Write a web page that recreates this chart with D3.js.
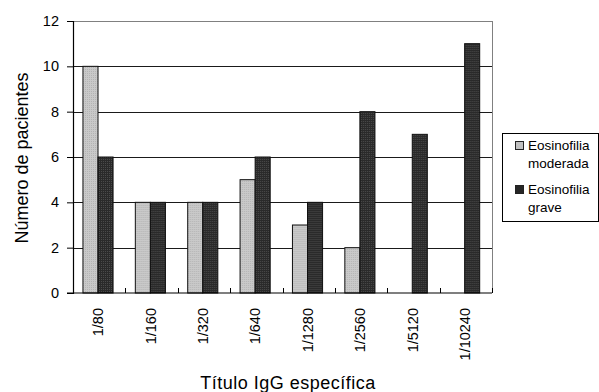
<!DOCTYPE html>
<html>
<head>
<meta charset="utf-8">
<script src="https://cdn.jsdelivr.net/npm/d3@7"></script>
<style>
  body { margin: 0; background: #fff; }
  text { font-family: "Liberation Sans", Arial, sans-serif; fill: #000; }
</style>
</head>
<body>
<div id="plot"></div>
<script>
let categories = ['1/80', '1/160', '1/320', '1/640', '1/1280', '1/2560', '1/5120', '1/10240'];
let seriesNames = ['Eosinofilia moderada', 'Eosinofilia grave'];
let moderada = [10, 4, 4, 5, 3, 2, 0, 0];
let grave = [6, 4, 4, 6, 4, 8, 7, 11];
let yTicks = [0, 2, 4, 6, 8, 10, 12];

let svgWidth = 599;
let svgHeight = 392;
let margin = { top: 21, right: 107, bottom: 99, left: 73 };
let width = svgWidth - margin.left - margin.right;
let height = svgHeight - margin.top - margin.bottom;

let data = categories.map((c, i) => ({ cat: c, values: [moderada[i], grave[i]] }));

let svg = d3.select('#plot')
  .append('svg')
  .attr('width', svgWidth)
  .attr('height', svgHeight);

// textured fills, like the old spreadsheet chart
let defs = svg.append('defs');
function dots(id, bg, fg) {
  let p = defs.append('pattern')
    .attr('id', id)
    .attr('width', 2).attr('height', 2)
    .attr('patternUnits', 'userSpaceOnUse');
  p.append('rect').attr('width', 2).attr('height', 2).attr('fill', bg);
  p.append('rect').attr('width', 1).attr('height', 1).attr('fill', fg);
}
dots('pLight', '#c9c9c9', '#b4b4b4');
dots('pDark', '#2a2a2a', '#4a4a4a');
let fills = ['url(#pLight)', 'url(#pDark)'];
let swatch = ['#c0c0c0', '#262626'];

let chart = svg.append('g')
  .attr('transform', `translate(${margin.left},${margin.top})`);

let x0 = d3.scaleBand().domain(categories).range([0, width]);
let bw = x0.bandwidth();
let x1 = d3.scaleBand().domain([0, 1]).range([bw * 0.19, bw * 0.765]);
let y = d3.scaleLinear().domain([0, 12]).range([height, 0]);

// gridlines
chart.append('g')
  .selectAll('line')
  .data(yTicks.filter(d => d > 0))
  .enter().append('line')
  .attr('x1', 0).attr('x2', width)
  .attr('y1', d => Math.round(y(d)) + 0.5)
  .attr('y2', d => Math.round(y(d)) + 0.5)
  .attr('stroke', d => d === 12 ? '#808080' : '#1a1a1a')
  .attr('stroke-width', 1);

// right border
chart.append('line')
  .attr('x1', width + 0.5).attr('x2', width + 0.5)
  .attr('y1', 0).attr('y2', height)
  .attr('stroke', '#808080');

// bars
let groups = chart.selectAll('.grp')
  .data(data)
  .enter().append('g')
  .attr('transform', d => `translate(${x0(d.cat)},0)`);

groups.selectAll('rect')
  .data(d => d.values.map((v, i) => ({ v: v, i: i })).filter(e => e.v > 0))
  .enter().append('rect')
  .attr('x', d => x1(d.i))
  .attr('y', d => y(d.v))
  .attr('width', x1.bandwidth())
  .attr('height', d => height - y(d.v))
  .attr('fill', d => fills[d.i])
  .attr('stroke', '#111')
  .attr('stroke-width', 1);

// y axis
let yAxis = d3.axisLeft(y).tickValues(yTicks).tickSize(6).tickPadding(8);
let gy = chart.append('g').call(yAxis);
gy.select('.domain').attr('stroke', '#000').attr('stroke-width', 1.2);
gy.selectAll('.tick line').attr('stroke', '#000');
gy.selectAll('text').style('font-size', '14.5px');

// x axis with inner ticks at band boundaries
let gx = chart.append('g').attr('transform', `translate(0,${height})`);
gx.append('line')
  .attr('x1', -6).attr('x2', width)
  .attr('y1', 0).attr('y2', 0)
  .attr('stroke', '#000').attr('stroke-width', 1.2);
gx.selectAll('.btick')
  .data(categories.slice(1).concat(['end']))
  .enter().append('line')
  .attr('x1', (d, i) => Math.round(bw * (i + 1)) + 0.5)
  .attr('x2', (d, i) => Math.round(bw * (i + 1)) + 0.5)
  .attr('y1', 0).attr('y2', -5)
  .attr('stroke', '#000');
gx.selectAll('.lbl')
  .data(categories)
  .enter().append('text')
  .attr('transform', d => `translate(${x0(d) + bw / 2 - 1},15) rotate(-90)`)
  .attr('text-anchor', 'end')
  .attr('dy', '0.35em')
  .style('font-size', '14.5px')
  .text(d => d);

// axis titles
svg.append('text')
  .attr('x', 288)
  .attr('y', 389)
  .attr('text-anchor', 'middle')
  .style('font-size', '18px')
  .style('letter-spacing', '0.5px')
  .text('Título IgG específica');

svg.append('text')
  .attr('transform', `translate(28,158) rotate(-90)`)
  .attr('text-anchor', 'middle')
  .style('font-size', '18px')
  .text('Número de pacientes');

// legend
let lg = svg.append('g').attr('transform', 'translate(502,133)');
lg.append('rect')
  .attr('x', 0.5).attr('y', 0.5)
  .attr('width', 96).attr('height', 88)
  .attr('fill', '#fff').attr('stroke', '#000');
let lines = [['Eosinofilia', 'moderada'], ['Eosinofilia', 'grave']];
lines.forEach((l, i) => {
  let yy = 16 + i * 44;
  lg.append('rect')
    .attr('x', 13.5).attr('y', yy - 7.5)
    .attr('width', 8).attr('height', 8)
    .attr('fill', swatch[i]).attr('stroke', '#222');
  lg.append('text').attr('x', 26).attr('y', yy + 1).style('font-size', '13.5px').text(l[0]);
  lg.append('text').attr('x', 26).attr('y', yy + 19).style('font-size', '13.5px').text(l[1]);
});
</script>
</body>
</html>
